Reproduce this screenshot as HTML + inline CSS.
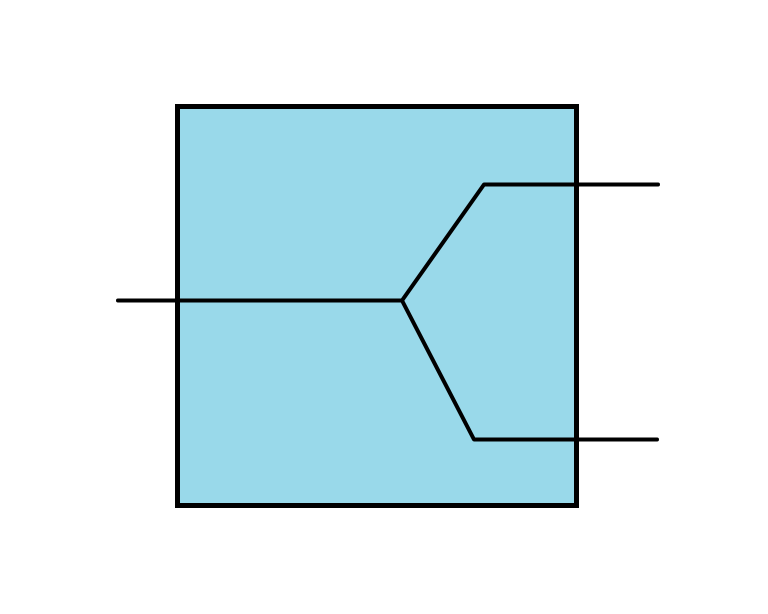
<!DOCTYPE html>
<html>
<head>
<meta charset="utf-8">
<style>
  html, body { margin: 0; padding: 0; background: #ffffff; }
  svg { display: block; }
</style>
</head>
<body>
<svg width="768" height="614" viewBox="0 0 768 614">
  <rect x="0" y="0" width="768" height="614" fill="#ffffff"/>
  <rect x="177.5" y="106.5" width="399" height="399" fill="#99d9ea" stroke="#000" stroke-width="5"/>
  <polyline points="118,300.5 402,300.5" fill="none" stroke="#000" stroke-width="4" stroke-linecap="round"/>
  <polyline points="402,300.5 484,184.5 658,184.5" fill="none" stroke="#000" stroke-width="4" stroke-linecap="round" stroke-linejoin="round"/>
  <polyline points="402,300.5 474,439.5 657,439.5" fill="none" stroke="#000" stroke-width="4" stroke-linecap="round" stroke-linejoin="round"/>
</svg>
</body>
</html>
